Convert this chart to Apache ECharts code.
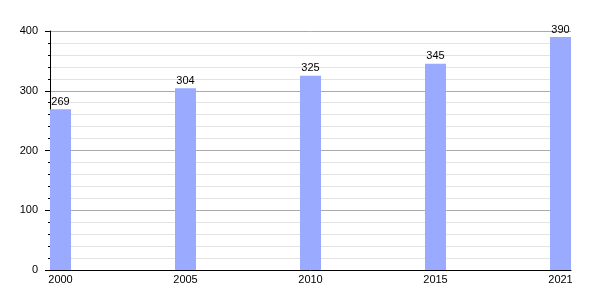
<!DOCTYPE html>
<html><head><meta charset="utf-8">
<script src="https://cdn.jsdelivr.net/npm/echarts@6/dist/echarts.min.js"></script>
<style>html,body{margin:0;padding:0;background:#fff}#c{width:600px;height:300px}</style>
</head><body><div id="c"></div>
<script>
const years = ['2000', '2005', '2010', '2015', '2021'];
const values = [269, 304, 325, 345, 390];
const yTicks = [0, 100, 200, 300, 400];

const chart = echarts.init(document.getElementById('c'), null, {renderer: 'canvas'});
const font = {fontFamily: 'Liberation Sans, Arial, sans-serif', fontSize: 11, color: '#000'};
chart.setOption({
  animation: false,
  grid: {left: 50, right: 29, top: 31, bottom: 30, containLabel: false},
  xAxis: {
    type: 'value',
    min: -0.084, max: years.length - 1 + 0.084,
    splitLine: {show: false},
    axisTick: {show: false},
    axisLine: {show: true, onZero: false, lineStyle: {color: '#000', width: 1}},
    axisLabel: Object.assign({
      customValues: years.map((_, i) => i),
      formatter: v => years[Math.round(v)],
      margin: 4
    }, font)
  },
  yAxis: {
    type: 'value', min: yTicks[0], max: yTicks[yTicks.length - 1], interval: 100,
    axisLine: {show: true, onZero: false, lineStyle: {color: '#000', width: 1}},
    axisTick: {show: true, length: 5, lineStyle: {color: '#000'}},
    minorTick: {show: true, splitNumber: 5, length: 2, lineStyle: {color: '#000'}},
    splitLine: {show: true, lineStyle: {color: '#aaaaaa', width: 1}},
    minorSplitLine: {show: true, lineStyle: {color: '#e3e3e3', width: 1}},
    axisLabel: Object.assign({margin: 12}, font)
  },
  series: [{
    type: 'bar',
    barWidth: 21,
    data: values.map((v, i) => [i, v]),
    itemStyle: {color: '#99aaff'},
    label: Object.assign({show: true, position: 'top', distance: 2}, font)
  }]
});
</script></body></html>
